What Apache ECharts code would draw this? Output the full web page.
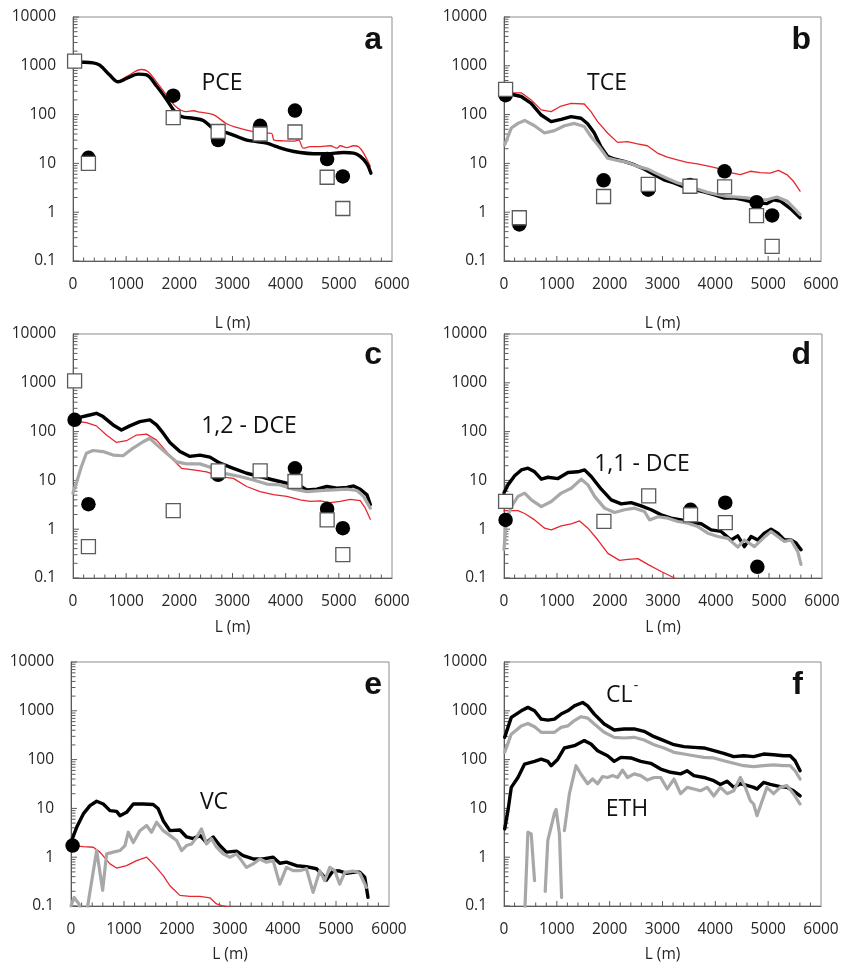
<!DOCTYPE html>
<html>
<head>
<meta charset="utf-8">
<script src="https://cdn.jsdelivr.net/npm/echarts@6/dist/echarts.min.js"></script>
<style>
  html, body { margin: 0; padding: 0; background: #fff; }
  #chart { width: 843px; height: 965px; }
</style>
</head>
<body>
<div id="chart"></div>
<script>
// Concentration profiles along the flow path, L (m), log scale.
// Each panel: black, gray and red profile lines, black dots and open squares.

// ---- axis labels ----
const xTickLabels = [0, 1000, 2000, 3000, 4000, 5000, 6000];
const yTickLabels = [0.1, 1, 10, 100, 1000, 10000];

// ---- a: PCE ----
const pceBlack = [[0,1200],[377,1150],[503,1030],[691,645],[848,470],[1005,550],[1225,675],[1382,650],[1571,385],[1759,205],[1916,115],[2042,91],[2262,84],[2450,76],[2639,52],[2827,45],[3016,38],[3267,30],[3456,28],[3644,26],[3833,22],[4021,19],[4272,16.7],[4524,15.8],[4775,15.8],[5089,16.7],[5278,16.2],[5403,13.9],[5529,9.8],[5604,6.3]];
const pceRed = [[0,1200],[377,1180],[503,1000],[691,640],[848,490],[1005,600],[1288,840],[1414,755],[1571,470],[1759,250],[1948,141],[2136,115],[2262,120],[2388,112],[2639,100],[2890,65],[3141,52],[3393,45],[3644,42],[3738,41],[3782,30],[3958,29],[4147,28.5],[4241,30],[4335,20.5],[4461,22],[4649,22],[4838,23],[4964,20.5],[5027,23],[5152,21],[5278,23],[5372,22],[5466,16.3],[5592,8.7]];
const pceDots = [[290,13],[1885,244],[2730,30],[3520,59],[4175,121],[4780,12.3],[5075,5.4]];
const pceSquares = [[30,1245],[290,10],[1885,87],[2730,45],[3520,40],[4175,44],[4780,5.2],[5075,1.19]];

// ---- b: TCE ----
const tceBlack = [[13,280],[327,235],[515,170],[704,98],[892,72],[1081,80],[1269,91],[1458,84],[1583,65],[1709,42],[1835,22],[1960,14],[2086,12.3],[2274,11],[2463,9.4],[2651,7.7],[2840,5.9],[3028,4.6],[3217,4],[3405,3.3],[3594,2.9],[3782,2.6],[3971,2.3],[4159,1.96],[4348,1.96],[4536,1.8],[4725,1.6],[4976,1.5],[5102,1.8],[5227,1.7],[5416,1.2],[5604,0.77]];
const tceGray = [[13,24],[138,53],[264,66],[390,76],[578,59],[767,42],[955,47],[1144,59],[1332,66],[1520,57],[1646,35.6],[1803,22],[1960,12.8],[2149,11.5],[2337,10.5],[2526,8.7],[2714,7.7],[2903,6.1],[3091,4.9],[3280,4],[3468,3.5],[3657,3],[3845,2.56],[4034,2.3],[4222,2.1],[4410,2.05],[4599,1.96],[4788,1.8],[4976,1.8],[5165,2.05],[5353,1.7],[5604,0.9]];
const tceRed = [[13,280],[327,280],[515,200],[704,125],[892,115],[1081,150],[1269,170],[1520,165],[1646,115],[1772,72],[1960,42],[2149,27],[2337,28],[2526,25],[2714,23],[2903,16.3],[3091,13.4],[3280,11.8],[3468,10.5],[3657,9.8],[3845,8.9],[4034,8],[4159,7.2],[4285,6.5],[4473,5.9],[4662,6.9],[4850,6.5],[5039,6.3],[5196,7.2],[5353,5.9],[5479,4.3],[5604,2.7]];
const tceDots = [[30,250],[290,0.56],[1885,4.5],[2730,2.9],[3520,3.6],[4175,6.9],[4780,1.6],[5075,0.86]];
const tceSquares = [[30,330],[290,0.77],[1885,2.1],[2730,3.7],[3520,3.4],[4175,3.3],[4780,0.85],[5075,0.2]];

// ---- c: 1,2-DCE ----
const dce12Black = [[0,174],[126,196],[314,219],[440,237],[565,203],[754,137],[911,108],[1068,131],[1257,160],[1445,174],[1571,137],[1696,93],[1822,60],[2011,39],[2199,31],[2388,33],[2576,30],[2765,22.5],[3016,17.7],[3267,14],[3518,12],[3770,10.2],[4021,8.8],[4210,8.4],[4398,6.4],[4587,6.6],[4775,7.5],[4964,6.9],[5152,7.2],[5278,7.7],[5403,6.6],[5529,5.05],[5592,3.2]];
const dce12Gray = [[0,5.5],[63,8.8],[157,19],[251,36],[377,41],[565,39],[754,33],[942,32],[1131,46],[1319,62],[1445,73],[1571,54],[1759,36],[1948,24],[2136,21.8],[2388,21.8],[2639,17.7],[2890,13.6],[3141,12],[3393,10.2],[3644,8.4],[3896,8.1],[4147,6.6],[4398,5.9],[4649,6.2],[4901,6.4],[5152,6.6],[5341,6.2],[5466,4.7],[5592,2.7]];
const dce12Red = [[0,165],[251,152],[440,131],[628,85],[817,60],[1005,65],[1194,85],[1382,89],[1571,67],[1759,39],[1885,26],[2042,17.7],[2262,16.4],[2513,15],[2765,12],[3016,11],[3267,7.5],[3518,5.9],[3770,5.1],[4021,4.7],[4272,4],[4461,3.7],[4649,3.8],[4838,3.5],[5027,3.7],[5215,4.1],[5403,3.85],[5498,2.7],[5592,1.6]];
const dce12Dots = [[30,174],[290,3.25],[2730,13],[4175,17.7],[4780,2.6],[5075,1.05]];
const dce12Squares = [[30,1090],[290,0.44],[1885,2.4],[2730,15.7],[3520,15.7],[4175,9.5],[4780,1.55],[5075,0.3]];

// ---- d: 1,1-DCE ----
const dce11Black = [[0,5.6],[75,8.1],[201,12.4],[327,16.4],[452,17.8],[578,15],[704,10.6],[829,11.6],[1018,10.9],[1206,14.5],[1395,15],[1520,16.4],[1646,12],[1835,6.6],[2023,4],[2212,3.3],[2400,3.5],[2588,3],[2777,2.5],[2965,1.97],[3154,1.68],[3342,1.55],[3531,1.37],[3719,1.29],[3908,0.97],[4096,0.9],[4285,0.6],[4411,0.73],[4536,0.44],[4662,0.71],[4788,0.6],[4913,0.83],[5039,1.0],[5165,0.83],[5290,0.6],[5416,0.6],[5510,0.52],[5604,0.38]];
const dce11Gray = [[0,0.38],[44,1.55],[138,2.9],[264,4.7],[390,5.5],[515,4],[704,2.9],[892,3.7],[1081,5.5],[1269,6.9],[1458,10.6],[1583,8.1],[1709,4.7],[1897,2.7],[2086,2.2],[2274,2.5],[2463,2.7],[2651,2.3],[2746,1.55],[2903,1.8],[3091,1.68],[3280,1.44],[3468,1.33],[3657,1.13],[3845,0.83],[4034,0.71],[4222,0.65],[4411,0.43],[4536,0.6],[4725,0.44],[4913,0.69],[5039,0.9],[5165,0.71],[5290,0.56],[5416,0.6],[5541,0.35],[5604,0.19]];
const dce11Red = [[0,2.4],[264,2.4],[390,2.1],[578,1.55],[767,1.05],[892,0.97],[1081,1.17],[1269,1.29],[1426,1.48],[1583,1.05],[1772,0.6],[1960,0.32],[2180,0.23],[2337,0.24],[2526,0.25],[2714,0.19],[2965,0.136],[3217,0.1],[3342,0.08]];
const dce11Dots = [[30,1.55],[3520,2.5],[4175,3.5],[4780,0.17]];
const dce11Squares = [[30,3.7],[1885,1.44],[2730,4.8],[3520,1.97],[4175,1.37]];

// ---- e: VC ----
const vcBlack = [[13,2.2],[107,4.1],[232,7.7],[358,11.4],[484,14],[609,12.3],[735,9],[861,8.7],[924,7.1],[1049,8.3],[1175,12.3],[1363,12.3],[1552,12],[1646,9.8],[1740,5.6],[1866,3.5],[2055,3.6],[2180,2.6],[2306,2.4],[2432,2.8],[2557,2.0],[2683,2.6],[2808,1.73],[2934,1.27],[3123,1.33],[3248,1.08],[3437,0.92],[3625,0.92],[3814,1.0],[3939,0.75],[4065,0.79],[4254,0.67],[4442,0.64],[4631,0.58],[4725,0.46],[4819,0.34],[4945,0.53],[5070,0.52],[5196,0.47],[5322,0.49],[5448,0.49],[5542,0.39],[5604,0.15]];
const vcGray = [[0,0.1],[60,0.15],[150,0.11],[230,0.06],[270,0.05],[484,1.37],[597,0.21],[672,1.17],[798,1.27],[924,1.37],[1018,1.73],[1081,3.25],[1175,2.0],[1300,3.5],[1426,4.45],[1520,3.25],[1615,5.2],[1740,3.5],[1866,2.8],[1992,2.2],[2086,1.37],[2180,1.73],[2275,1.87],[2369,2.55],[2463,3.8],[2557,1.87],[2651,2.4],[2746,1.6],[2871,1.17],[2997,1.0],[3123,1.17],[3311,0.62],[3437,0.73],[3562,0.92],[3688,0.79],[3814,0.85],[3939,0.28],[4065,0.62],[4191,0.53],[4316,0.53],[4442,0.58],[4568,0.19],[4694,0.53],[4788,0.33],[4882,0.62],[4976,0.53],[5070,0.28],[5165,0.49],[5322,0.52],[5448,0.47],[5573,0.24]];
const vcRed = [[30,1.73],[232,1.65],[421,1.6],[547,1.27],[735,0.73],[861,0.6],[1049,0.67],[1238,0.85],[1426,1.0],[1552,0.73],[1740,0.42],[1866,0.26],[2055,0.165],[2243,0.157],[2432,0.157],[2620,0.147],[2746,0.11],[2871,0.1],[2997,0.095]];
const vcDots = [[30,1.73]];

// ---- f: chloride and ethene ----
const clBlack = [[13,286],[138,733],[327,1000],[452,1175],[578,1000],[704,677],[829,646],[955,677],[1081,856],[1206,1000],[1332,1265],[1489,1480],[1583,1265],[1709,856],[1897,535],[2086,405],[2274,425],[2463,425],[2651,380],[2840,295],[3028,245],[3217,202],[3405,184],[3594,178],[3782,173],[3971,152],[4159,134],[4348,115],[4536,120],[4725,115],[4913,130],[5102,126],[5290,120],[5416,120],[5510,95],[5604,59]];
const clGray = [[13,141],[138,332],[327,490],[452,550],[578,470],[704,363],[955,363],[1081,457],[1206,490],[1332,630],[1458,757],[1583,710],[1709,535],[1897,363],[2086,286],[2274,277],[2463,286],[2651,252],[2840,202],[3028,173],[3217,141],[3405,130],[3594,120],[3782,111],[3971,108],[4159,95],[4348,84],[4536,75],[4725,72],[4913,75],[5102,78],[5290,75],[5416,75],[5510,59],[5604,40]];
const ethBlack = [[13,3.8],[75,9],[138,27],[264,43],[390,81],[578,92],[704,102],[829,92],[892,75],[1018,102],[1143,173],[1332,193],[1520,245],[1646,209],[1772,152],[1960,120],[2086,92],[2212,111],[2400,108],[2588,92],[2777,84],[2965,64],[3154,55],[3342,51],[3468,59],[3594,47],[3782,43],[3971,37],[4096,31],[4222,36],[4348,27],[4473,32],[4599,29.5],[4725,27],[4788,25],[4913,34],[5039,31],[5227,28],[5353,27],[5479,23],[5604,18]];
const ethGray = [[390,0.06],[452,3.25],[515,3.0],[578,0.33],[650,'-'],[780,0.2],[829,2.2],[955,8],[986,9.5],[1050,3],[1090,0.15],[1115,'-'],[1143,3.5],[1238,20],[1363,75],[1458,50],[1583,32],[1677,40],[1772,32],[1866,45],[1960,43],[2055,47],[2149,43],[2243,61],[2337,43],[2463,51],[2588,47],[2714,38],[2840,43],[2965,43],[3091,25],[3217,40],[3342,20],[3468,27],[3594,25],[3719,23],[3845,27],[3971,18],[4096,27],[4222,20],[4348,23],[4473,43],[4568,27],[4662,14.5],[4725,12.3],[4788,7.1],[4976,27],[5102,20],[5227,27],[5353,29.5],[5479,20],[5604,12.3]];

// ---- styling ----
const BLACK = '#000000';
const GRAY = '#a8a8a8';
const RED = '#e8262e';
const AXIS = '#5c5c5c';
const TEXT = '#262626';
const FONT = '"Open Sans", "DejaVu Sans", sans-serif';

// tick positions: y at 1..9 per decade, x every 200 m  [x, y, length, vertical]
const tickItems = [];
for (let e = -1; e < 4; e++) {
  for (let k = 1; k < 10; k++) tickItems.push([0, +(k * Math.pow(10, e)).toPrecision(3), k === 1 ? 6 : 4.5, 0]);
}
tickItems.push([0, 10000, 6, 0]);
for (let x = 200; x < 6000; x += 200) tickItems.push([x, 0.1, x % 1000 === 0 ? 5 : 3.5, 1]);

const panels = [
  { grid: { left: 73, top: 17, width: 319, height: 244 }, nameGap: 55,
    black: pceBlack, gray: null, red: pceRed, dots: pceDots, squares: pceSquares, smooth: 0.35 },
  { grid: { left: 504, top: 17, width: 317, height: 244 }, nameGap: 55,
    black: tceBlack, gray: tceGray, red: tceRed, dots: tceDots, squares: tceSquares, smooth: 0 },
  { grid: { left: 73, top: 334, width: 319, height: 244 }, nameGap: 42,
    black: dce12Black, gray: dce12Gray, red: dce12Red, dots: dce12Dots, squares: dce12Squares, smooth: 0 },
  { grid: { left: 504, top: 334, width: 318, height: 244 }, nameGap: 42,
    black: dce11Black, gray: dce11Gray, red: dce11Red, dots: dce11Dots, squares: dce11Squares, smooth: 0 },
  { grid: { left: 71, top: 662, width: 318, height: 244 }, nameGap: 41,
    black: vcBlack, gray: vcGray, red: vcRed, dots: vcDots, squares: null, smooth: 0 },
  { grid: { left: 504, top: 662, width: 317, height: 244 }, nameGap: 41,
    black: clBlack, gray: clGray, red: null, dots: null, squares: null, smooth: 0,
    extra: [[ethBlack, BLACK], [ethGray, GRAY]] }
];

const grids = [], xAxes = [], yAxes = [], series = [];

panels.forEach((p, i) => {
  grids.push(Object.assign({ show: true, borderColor: '#8c8c8c', borderWidth: 1, backgroundColor: 'transparent' }, p.grid));
  xAxes.push({
    type: 'value', gridIndex: i, min: 0, max: 6000, interval: 1000,
    name: 'L (m)', nameLocation: 'middle', nameGap: p.nameGap,
    nameTextStyle: { fontFamily: FONT, fontSize: 15.5, color: TEXT },
    axisLine: { show: true, lineStyle: { color: AXIS, width: 1 } },
    axisTick: { show: false },
    splitLine: { show: false },
    axisLabel: { fontFamily: FONT, fontSize: 15.5, color: TEXT, margin: 16,
      formatter: v => String(v) }
  });
  yAxes.push({
    type: 'log', gridIndex: i, logBase: 10, min: 0.1, max: 10000,
    axisLine: { show: true, lineStyle: { color: AXIS, width: 1 } },
    axisTick: { show: false },
    minorTick: { show: false },
    splitLine: { show: false },
    axisLabel: { fontFamily: FONT, fontSize: 15.5, color: TEXT, margin: 17,
      customValues: yTickLabels, formatter: v => String(v) }
  });

  // inward tick marks placed through the panel's own scales
  series.push({
    type: 'custom', xAxisIndex: i, yAxisIndex: i, data: tickItems,
    dimensions: ['x', 'y', 'len', 'dir'], encode: { x: 0, y: 1 },
    clip: false, silent: true, animation: false, z: 1,
    renderItem: (params, api) => {
      const pt = api.coord([api.value(0), api.value(1)]);
      const len = api.value(2);
      const vertical = api.value(3) === 1;
      return {
        type: 'line',
        shape: vertical
          ? { x1: pt[0], y1: pt[1], x2: pt[0], y2: pt[1] - len }
          : { x1: pt[0], y1: pt[1], x2: pt[0] + len, y2: pt[1] },
        style: { stroke: AXIS, lineWidth: 1 }
      };
    }
  });

  const line = (data, color, width, z) => ({
    type: 'line', xAxisIndex: i, yAxisIndex: i, data: data,
    showSymbol: false, symbol: 'none', smooth: p.smooth, connectNulls: false,
    lineStyle: { color: color, width: width, join: 'round', cap: 'round', opacity: 1 },
    z: z, silent: true, animation: false
  });
  if (p.red) series.push(line(p.red, RED, 1.3, 2));
  if (p.black) series.push(line(p.black, BLACK, 3.4, 3));
  if (p.gray) series.push(line(p.gray, GRAY, 3.2, 4));
  if (p.extra) p.extra.forEach(([d, c]) => series.push(line(d, c, c === BLACK ? 3.4 : 3.2, 3)));
  if (p.dots) series.push({
    type: 'scatter', xAxisIndex: i, yAxisIndex: i, data: p.dots,
    symbol: 'circle', symbolSize: 14.5, itemStyle: { color: BLACK, opacity: 1 },
    z: 5, silent: true, animation: false
  });
  if (p.squares) series.push({
    type: 'scatter', xAxisIndex: i, yAxisIndex: i, data: p.squares,
    symbol: 'rect', symbolSize: 14,
    itemStyle: { color: '#ffffff', borderColor: '#5a5a5a', borderWidth: 1.3, opacity: 1 },
    z: 6, silent: true, animation: false
  });
});

// panel letters and compound names
const letterFont = 'bold 32px "Liberation Sans", Arial, sans-serif';
const nameFont = '23px ' + FONT;
const txt = (text, x, y, font, align) => ({
  type: 'text', x: x, y: y, silent: true, z: 100,
  style: { text: text, font: font, fill: '#111', align: align || 'center', verticalAlign: 'middle' }
});
const graphic = [
  txt('a', 382, 40, letterFont, 'right'),
  txt('b', 811, 40, letterFont, 'right'),
  txt('c', 382, 355, letterFont, 'right'),
  txt('d', 811, 355, letterFont, 'right'),
  txt('e', 382, 685, letterFont, 'right'),
  txt('f', 803, 685, letterFont, 'right'),
  txt('PCE', 222, 83, nameFont),
  txt('TCE', 607, 83, nameFont),
  txt('1,2 - DCE', 249, 426, nameFont),
  txt('1,1 - DCE', 642, 464, nameFont),
  txt('VC', 214, 802, nameFont),
  txt('CL', 606, 695, nameFont, 'left'),
  txt('-', 636, 686, '14px ' + FONT),
  txt('ETH', 627, 809, nameFont)
];

const chart = echarts.init(document.getElementById('chart'), null, { renderer: 'canvas' });
chart.setOption({
  animation: false,
  backgroundColor: '#ffffff',
  grid: grids,
  xAxis: xAxes,
  yAxis: yAxes,
  series: series,
  graphic: graphic
});
</script>
</body>
</html>
